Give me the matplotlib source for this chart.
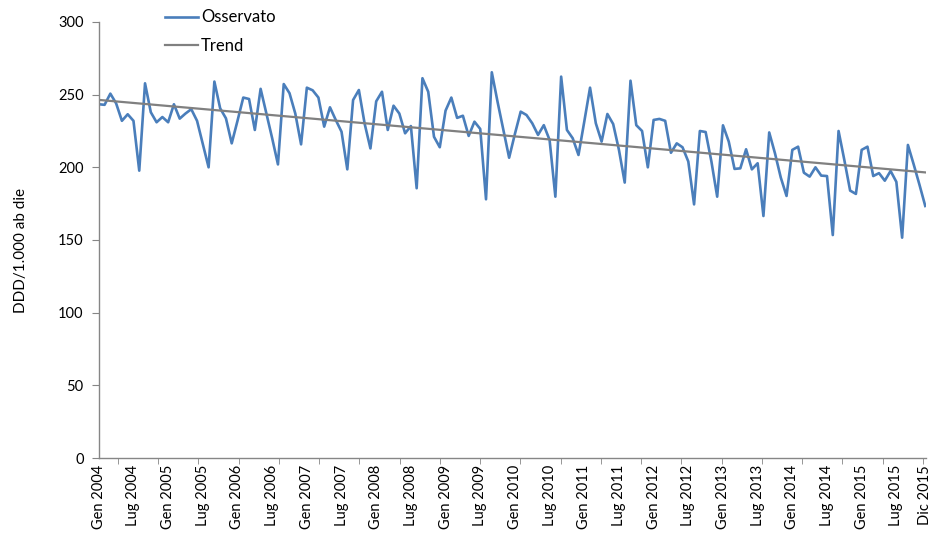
import numpy as np
import matplotlib
matplotlib.use("Agg")
import matplotlib.pyplot as plt

# monthly values, Gen 2004 .. Dic 2015
observed = [
    243.4, 243.0, 250.7, 244.0, 232.0, 236.5, 232.0, 197.7, 257.8, 237.9, 231.0, 234.6,
    231.0, 243.4, 233.5, 237.0, 240.0, 232.0, 216.0, 200.0, 259.0, 240.6, 233.7, 216.5,
    232.0, 248.0, 247.0, 225.7, 254.0, 237.0, 220.0, 202.0, 257.3, 251.0, 237.0, 215.8,
    254.8, 253.0, 248.0, 228.0, 241.3, 232.6, 224.5, 198.6, 246.3, 253.2, 230.0, 213.0,
    245.4, 252.0, 225.7, 242.4, 237.0, 223.4, 228.4, 185.6, 261.3, 252.0, 221.0, 213.8,
    239.0, 248.0, 234.0, 235.5, 221.6, 231.4, 226.4, 178.0, 265.4, 245.0, 225.7, 206.6,
    223.0, 238.3, 236.0, 230.3, 222.3, 229.0, 218.8, 179.8, 262.4, 225.7, 220.0, 208.5,
    231.4, 254.8, 230.3, 217.7, 236.7, 229.8, 212.0, 189.5, 259.6, 229.0, 225.0, 200.0,
    232.6, 233.3, 232.0, 210.0, 216.5, 213.8, 204.0, 174.5, 225.0, 224.3, 204.0, 179.8,
    228.9, 217.7, 198.9, 199.3, 212.4, 198.6, 202.8, 166.5, 224.0, 209.6, 193.0, 180.3,
    212.0, 214.2, 196.3, 193.6, 200.0, 194.3, 194.0, 153.4, 225.0, 205.0, 184.0, 181.7,
    212.0, 214.2, 194.0, 196.0, 190.8, 197.5, 190.0, 151.6, 215.4, 202.0, 188.0, 173.4,
]
years = list(range(2004, 2016))
tick_labels = []
for y in years:
    tick_labels += [f"Gen {y}", f"Lug {y}"]
tick_labels.append("Dic 2015")

x = np.arange(len(observed))
coef = np.polyfit(x, observed, 1)
trend = np.polyval(coef, x)

plt.rcParams['font.family'] = ['Lato', 'DejaVu Sans']

fig = plt.figure(figsize=(9.32, 5.36), dpi=100)
ax = fig.add_axes([0.106, 0.1455, 0.888, 0.8135])

ax.plot(x, observed, color='#4A7EBB', lw=1.9, label='Osservato', solid_joinstyle='round')
ax.plot(x, trend, color='#808080', lw=1.6, label='Trend')

ax.set_xlim(0, 143.2)
ax.set_ylim(0, 300)
ax.set_yticks(range(0, 301, 50))

tick_pos = list(range(0, 139, 6)) + [143]
ax.set_xticks(tick_pos)
ax.set_xticklabels(tick_labels, rotation=90, fontsize=10.5)
ax.tick_params(axis='x', length=0, pad=5)
ax.set_xticks(np.linspace(3.3, 142.6, 21), minor=True)
ax.tick_params(axis='x', which='minor', length=4, direction='out', color='#868686')
ax.tick_params(axis='y', length=5, direction='out', color='#868686', labelsize=10.5, pad=6)

for s in ['top', 'right']:
    ax.spines[s].set_visible(False)
for s in ['left', 'bottom']:
    ax.spines[s].set_color('#868686')
    ax.spines[s].set_linewidth(1.0)

ax.set_ylabel('DDD/1.000 ab die', fontsize=11)
ax.yaxis.set_label_coords(-0.086, 0.477)

ax.legend(loc='upper left', bbox_to_anchor=(0.17, 0.995), bbox_transform=fig.transFigure,
          frameon=False, fontsize=12, handlelength=2.0, handletextpad=0.15,
          labelspacing=0.75, borderaxespad=0.2, borderpad=0.2)

fig.savefig('out.png', dpi=100)
